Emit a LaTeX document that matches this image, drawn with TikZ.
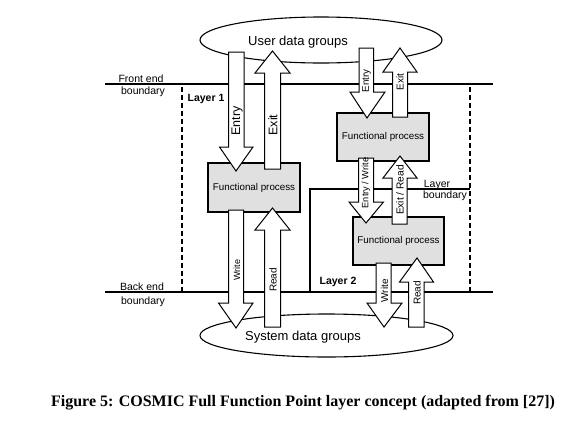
\documentclass[tikz,border=0pt]{standalone}
\usepackage{fontspec}
\setmainfont{Liberation Serif}
\setsansfont{Liberation Sans}
\usetikzlibrary{shapes.geometric}
\definecolor{fpgray}{RGB}{224,224,224}
\newcommand\fsz[1]{\fontsize{#1}{#1}\selectfont}
\newcommand\blockarr[8]{%
  \draw[blockarrow] (#1,#3) -- (#2,#3) -- (#2,#4) -- (#6,#4) -- (#7,#8) -- (#5,#4) -- (#1,#4) -- cycle;}
\tikzset{
  boundaryline/.style={line width=2.6pt},
  dashedline/.style={line width=1.3pt, dash pattern=on 5pt off 3pt},
  blockarrow/.style={draw, fill=white, line width=1pt, line join=miter},
  fpbox/.style={draw, fill=fpgray, line width=1.6pt, inner sep=0pt, font=\sffamily\fsz{9.8}},
  datagroup/.style={ellipse, draw, fill=white, line width=1.1pt, inner sep=0pt},
  lbl/.style={inner sep=0pt, font=\sffamily\fsz{10.5}},
  blbl/.style={inner sep=0pt, font=\sffamily\bfseries\fsz{10.5}},
  rlbl/.style={inner sep=0pt, rotate=90, font=\sffamily\fsz{#1}},
}
\begin{document}
\begin{tikzpicture}[x=1pt,y=-1pt]
\useasboundingbox[fill=white] (0,0) rectangle (576,421);

% data groups
\node[datagroup, minimum width=242, minimum height=46] (udg) at (321,40) {};
\node[datagroup, minimum width=253, minimum height=43] (sdg) at (326.5,335.5) {};
\node[lbl, font=\sffamily\fsz{13}] (udgt) at (298,42) {User data groups};
\node[lbl, font=\sffamily\fsz{13}] (sdgt) at (303,337) {System data groups};

% boundaries
\coordinate (fe1) at (105,84);
\coordinate (fe2) at (493,84);
\coordinate (be1) at (105,292);
\coordinate (be2) at (493,292);
\draw[boundaryline] (fe1) -- (fe2);
\draw[boundaryline] (be1) -- (be2);
\coordinate (lb1) at (310,292);
\coordinate (lb2) at (310,189);
\coordinate (lb3) at (470,189);
\draw[boundaryline] (lb1) -- (lb2) -- (lb3);

\coordinate (dl1) at (182,87);
\coordinate (dl2) at (182,291);
\coordinate (dr1) at (470,87);
\coordinate (dr2) at (470,291);
\draw[dashedline] (dl1) -- (dl2);
\draw[dashedline] (dr1) -- (dr2);

% functional processes
\node[fpbox, minimum width=92, minimum height=49] (fp1) at (254,187.5) {Functional process};
\node[fpbox, minimum width=92, minimum height=48] (fp2) at (383,137) {Functional process};
\node[fpbox, minimum width=91, minimum height=48] (fp3) at (398.5,241) {Functional process};

% block arrows: x1 x2 yshaft ybase xl xr xtip ytip
\blockarr{228.5}{244}{52}{147}{219.5}{253}{236}{171}   % Entry left
\blockarr{264.5}{280.5}{169}{73}{255}{290}{272.5}{51}  % Exit left
\blockarr{228.5}{243.5}{210}{303}{218.5}{253}{236}{328} % Write left
\blockarr{264.5}{280.5}{327}{230}{255}{290}{272.5}{208} % Read left
\blockarr{359}{373.5}{48}{92}{350}{385}{367}{118}     % Entry right
\blockarr{392.5}{407.5}{117}{72}{383}{417}{400}{48}   % Exit right
\blockarr{358.5}{373.5}{158}{202}{349}{383.5}{366}{223} % Entry / Write
\blockarr{392}{407}{224}{178}{383}{417}{400}{156}     % Exit / Read
\blockarr{376}{391}{263}{303}{367}{402}{384}{327}     % Write right
\blockarr{408.5}{424}{327}{282}{399.5}{433.5}{417}{258} % Read right

% arrow labels
\node[rlbl=12.5] (t1) at (237,121) {Entry};
\node[rlbl=12.5] (t2) at (273,125) {Exit};
\node[rlbl=9] (t3) at (237,270) {Write};
\node[rlbl=10] (t4) at (273,280) {Read};
\node[rlbl=9.8] (t5) at (366.5,81) {Entry};
\node[rlbl=10] (t6) at (400,82) {Exit};
\node[rlbl=9.2] (t7) at (366,183) {Entry / Write};
\node[rlbl=10.2] (t8) at (400,190) {Exit / Read};
\node[rlbl=10] (t9) at (384.5,291) {Write};
\node[rlbl=10] (t10) at (417,293) {Read};

% boundary labels
\node[lbl] (fet) at (141,79) {Front end};
\node[lbl] (feb) at (143,92) {boundary};
\node[lbl] (bet) at (142,287) {Back end};
\node[lbl] (beb) at (143,302) {boundary};
\node[blbl] (l1) at (206,99) {Layer 1};
\node[blbl] (l2) at (338,282) {Layer 2};
\node[lbl] (lbt) at (437,185) {Layer};
\node[lbl] (lbb) at (445,196) {boundary};

% caption
\node[inner sep=0pt, font=\bfseries\fsz{16}] (cap) at (303,403) {Figure 5: COSMIC Full Function Point layer concept (adapted from [27])};
\end{tikzpicture}
\end{document}
